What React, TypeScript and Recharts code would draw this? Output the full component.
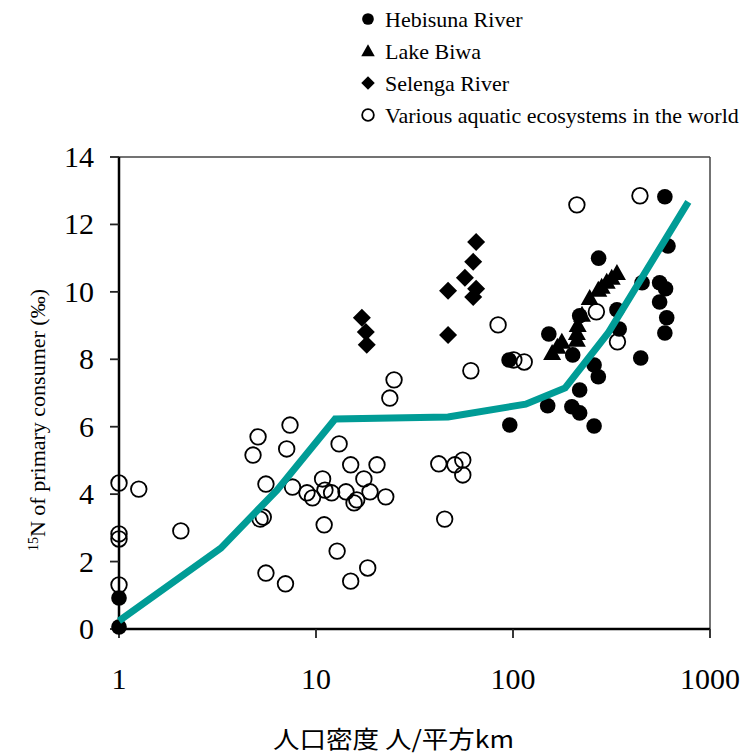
import { ReferenceLine, Scatter, ScatterChart, XAxis, YAxis } from "recharts";

const hebisuna = [
  { x: 1, y: 0.92 }, { x: 1, y: 0.06 }, { x: 95.5, y: 7.98 }, { x: 96.3, y: 6.05 },
  { x: 152, y: 8.75 }, { x: 150, y: 6.62 }, { x: 201, y: 8.13 }, { x: 199, y: 6.59 },
  { x: 218, y: 7.09 }, { x: 218, y: 6.41 }, { x: 218, y: 9.29 }, { x: 258, y: 7.83 },
  { x: 271, y: 7.48 }, { x: 258, y: 6.02 }, { x: 272, y: 11.0 }, { x: 337, y: 9.47 },
  { x: 346, y: 8.9 }, { x: 445, y: 8.04 }, { x: 452, y: 10.27 }, { x: 555, y: 10.27 },
  { x: 595, y: 10.09 }, { x: 555, y: 9.7 }, { x: 603, y: 9.23 }, { x: 590, y: 8.78 },
  { x: 612, y: 11.36 }, { x: 590, y: 12.82 },
];

const lakeBiwa = [
  { x: 337, y: 10.56 }, { x: 317, y: 10.42 }, { x: 299, y: 10.3 }, { x: 282, y: 10.15 },
  { x: 271, y: 10.06 }, { x: 245, y: 9.82 }, { x: 224, y: 9.32 }, { x: 213, y: 9.02 },
  { x: 211, y: 8.78 }, { x: 211, y: 8.58 }, { x: 177, y: 8.52 }, { x: 168, y: 8.37 },
  { x: 158, y: 8.19 },
];

const selenga = [
  { x: 17.1, y: 9.23 }, { x: 17.9, y: 8.81 }, { x: 18.1, y: 8.43 }, { x: 46.8, y: 10.03 },
  { x: 46.8, y: 8.72 }, { x: 65, y: 11.48 }, { x: 62.8, y: 10.89 }, { x: 57, y: 10.42 },
  { x: 65, y: 10.09 }, { x: 62.8, y: 9.85 },
];

const various = [
  { x: 1, y: 4.33 }, { x: 1, y: 2.82 }, { x: 1, y: 2.67 }, { x: 1, y: 1.31 },
  { x: 1.26, y: 4.15 }, { x: 2.06, y: 2.91 }, { x: 4.79, y: 5.16 }, { x: 5.08, y: 5.7 },
  { x: 5.57, y: 4.3 }, { x: 5.2, y: 3.26 }, { x: 5.4, y: 3.32 }, { x: 5.57, y: 1.66 },
  { x: 7.38, y: 6.05 }, { x: 7.1, y: 5.34 }, { x: 7.6, y: 4.21 }, { x: 7.0, y: 1.34 },
  { x: 9.0, y: 4.04 }, { x: 9.6, y: 3.89 }, { x: 10.8, y: 4.45 }, { x: 11.1, y: 4.12 },
  { x: 12.0, y: 4.04 }, { x: 11.0, y: 3.09 }, { x: 12.8, y: 2.31 }, { x: 13.1, y: 5.49 },
  { x: 14.2, y: 4.07 }, { x: 15.0, y: 4.87 }, { x: 15.6, y: 3.74 }, { x: 16.1, y: 3.83 },
  { x: 17.5, y: 4.45 }, { x: 18.8, y: 4.07 }, { x: 20.4, y: 4.87 }, { x: 22.6, y: 3.92 },
  { x: 15.0, y: 1.42 }, { x: 18.3, y: 1.81 }, { x: 23.7, y: 6.85 }, { x: 24.9, y: 7.39 },
  { x: 42.0, y: 4.9 }, { x: 50.7, y: 4.87 }, { x: 55.6, y: 5.01 }, { x: 55.6, y: 4.57 },
  { x: 45.0, y: 3.26 }, { x: 61.1, y: 7.66 }, { x: 84, y: 9.02 }, { x: 101, y: 7.98 },
  { x: 114, y: 7.92 }, { x: 211, y: 12.58 }, { x: 441, y: 12.85 }, { x: 265, y: 9.41 },
  { x: 339, y: 8.52 },
];

const trend = [
  { x: 1, y: 0.24 }, { x: 3.29, y: 2.4 }, { x: 6.34, y: 4.12 }, { x: 12.5, y: 6.23 },
  { x: 46.8, y: 6.29 }, { x: 116, y: 6.67 }, { x: 184, y: 7.15 }, { x: 304, y: 8.78 },
  { x: 776, y: 12.67 },
];

const xTicks = [1, 10, 100, 1000];
const yTicks = [0, 2, 4, 6, 8, 10, 12, 14];

const legendItems = [
  { name: "Hebisuna River", kind: "circle" },
  { name: "Lake Biwa", kind: "triangle" },
  { name: "Selenga River", kind: "diamond" },
  { name: "Various aquatic ecosystems in the world", kind: "open" },
];

const SERIF = "'Liberation Serif', 'Times New Roman', serif";
const TEAL = "#009C96";

const marker = (kind: string, cx: number, cy: number, s = 1) => {
  if (kind === "circle") return <circle cx={cx} cy={cy} r={7.8 * s} fill="#000" />;
  if (kind === "triangle")
    return (
      <polygon
        points={`${cx},${cy - 9 * s} ${cx - 9 * s},${cy + 7 * s} ${cx + 9 * s},${cy + 7 * s}`}
        fill="#000"
      />
    );
  if (kind === "diamond")
    return (
      <polygon
        points={`${cx},${cy - 9 * s} ${cx + 9 * s},${cy} ${cx},${cy + 9 * s} ${cx - 9 * s},${cy}`}
        fill="#000"
      />
    );
  return <circle cx={cx} cy={cy} r={7.8 * s} fill="none" stroke="#000" strokeWidth={1.8} />;
};

const XTick = (props: any) => (
  <text x={props.x} y={689} textAnchor="middle" fontFamily={SERIF} fontSize={30} fill="#000">
    {props.payload.value}
  </text>
);

const YTick = (props: any) => (
  <text x={94} y={props.y + 10} textAnchor="end" fontFamily={SERIF} fontSize={30} fill="#000">
    {props.payload.value}
  </text>
);

export default function App() {
  return (
    <div style={{ position: "relative", width: 746, height: 756 }}>
      <style>{"body{margin:0}"}</style>
      <ScatterChart width={746} height={756} margin={{ top: 157, right: 36, bottom: 77, left: 0 }}>
        <XAxis
          dataKey="x"
          type="number"
          scale="log"
          domain={[1, 1000]}
          ticks={xTicks}
          height={50}
          tick={XTick}
          tickSize={9}
          axisLine={{ stroke: "#000", strokeWidth: 2.5 }}
          tickLine={{ stroke: "#222", strokeWidth: 1.8 }}
          label={{
            content: () => (
              <text
                x={273}
                y={748}
                textLength={241}
                lengthAdjust="spacingAndGlyphs"
                fontFamily="'Noto Sans CJK JP', sans-serif"
                fontSize={24}
                fill="#000"
              >
                人口密度 人/平方km
              </text>
            ),
          }}
        />
        <YAxis
          dataKey="y"
          type="number"
          domain={[0, 14]}
          ticks={yTicks}
          width={119}
          tick={YTick}
          tickSize={9}
          axisLine={{ stroke: "#000", strokeWidth: 2.5 }}
          tickLine={{ stroke: "#222", strokeWidth: 1.8 }}
          label={{
            content: () => (
              <text
                transform="rotate(-90, 38, 420)"
                x={38}
                y={427}
                textAnchor="middle"
                fontFamily={SERIF}
                fontSize={22}
                fill="#000"
              >
                <tspan fontSize={14} dy={-7}>15</tspan>
                <tspan dy={7}>N of primary consumer (‰)</tspan>
              </text>
            ),
          }}
        />
        <ReferenceLine y={14} stroke="#444" strokeWidth={1.5} />
        <ReferenceLine x={1000} stroke="#444" strokeWidth={1.5} />
        <Scatter
          name="Various aquatic ecosystems in the world"
          data={various}
          isAnimationActive={false}
          shape={(p: any) => marker("open", p.cx, p.cy)}
        />
        <Scatter
          name="Selenga River"
          data={selenga}
          isAnimationActive={false}
          shape={(p: any) => marker("diamond", p.cx, p.cy)}
        />
        <Scatter
          name="Lake Biwa"
          data={lakeBiwa}
          isAnimationActive={false}
          shape={(p: any) => marker("triangle", p.cx, p.cy)}
        />
        <Scatter
          name="Hebisuna River"
          data={hebisuna}
          isAnimationActive={false}
          shape={(p: any) => marker("circle", p.cx, p.cy)}
        />
        <Scatter
          name="trend"
          data={trend}
          isAnimationActive={false}
          line={{ stroke: TEAL, strokeWidth: 7 }}
          shape={() => <g />}
        />
      </ScatterChart>
      <svg
        width={400}
        height={135}
        style={{ position: "absolute", left: 350, top: 0 }}
      >
        {legendItems.map((it, i) => (
          <g key={it.name}>
            {marker(it.kind, 18, 19 + i * 32, 0.75)}
            <text x={35} y={27 + i * 32} fontFamily={SERIF} fontSize={22} fill="#000">
              {it.name}
            </text>
          </g>
        ))}
      </svg>
    </div>
  );
}
